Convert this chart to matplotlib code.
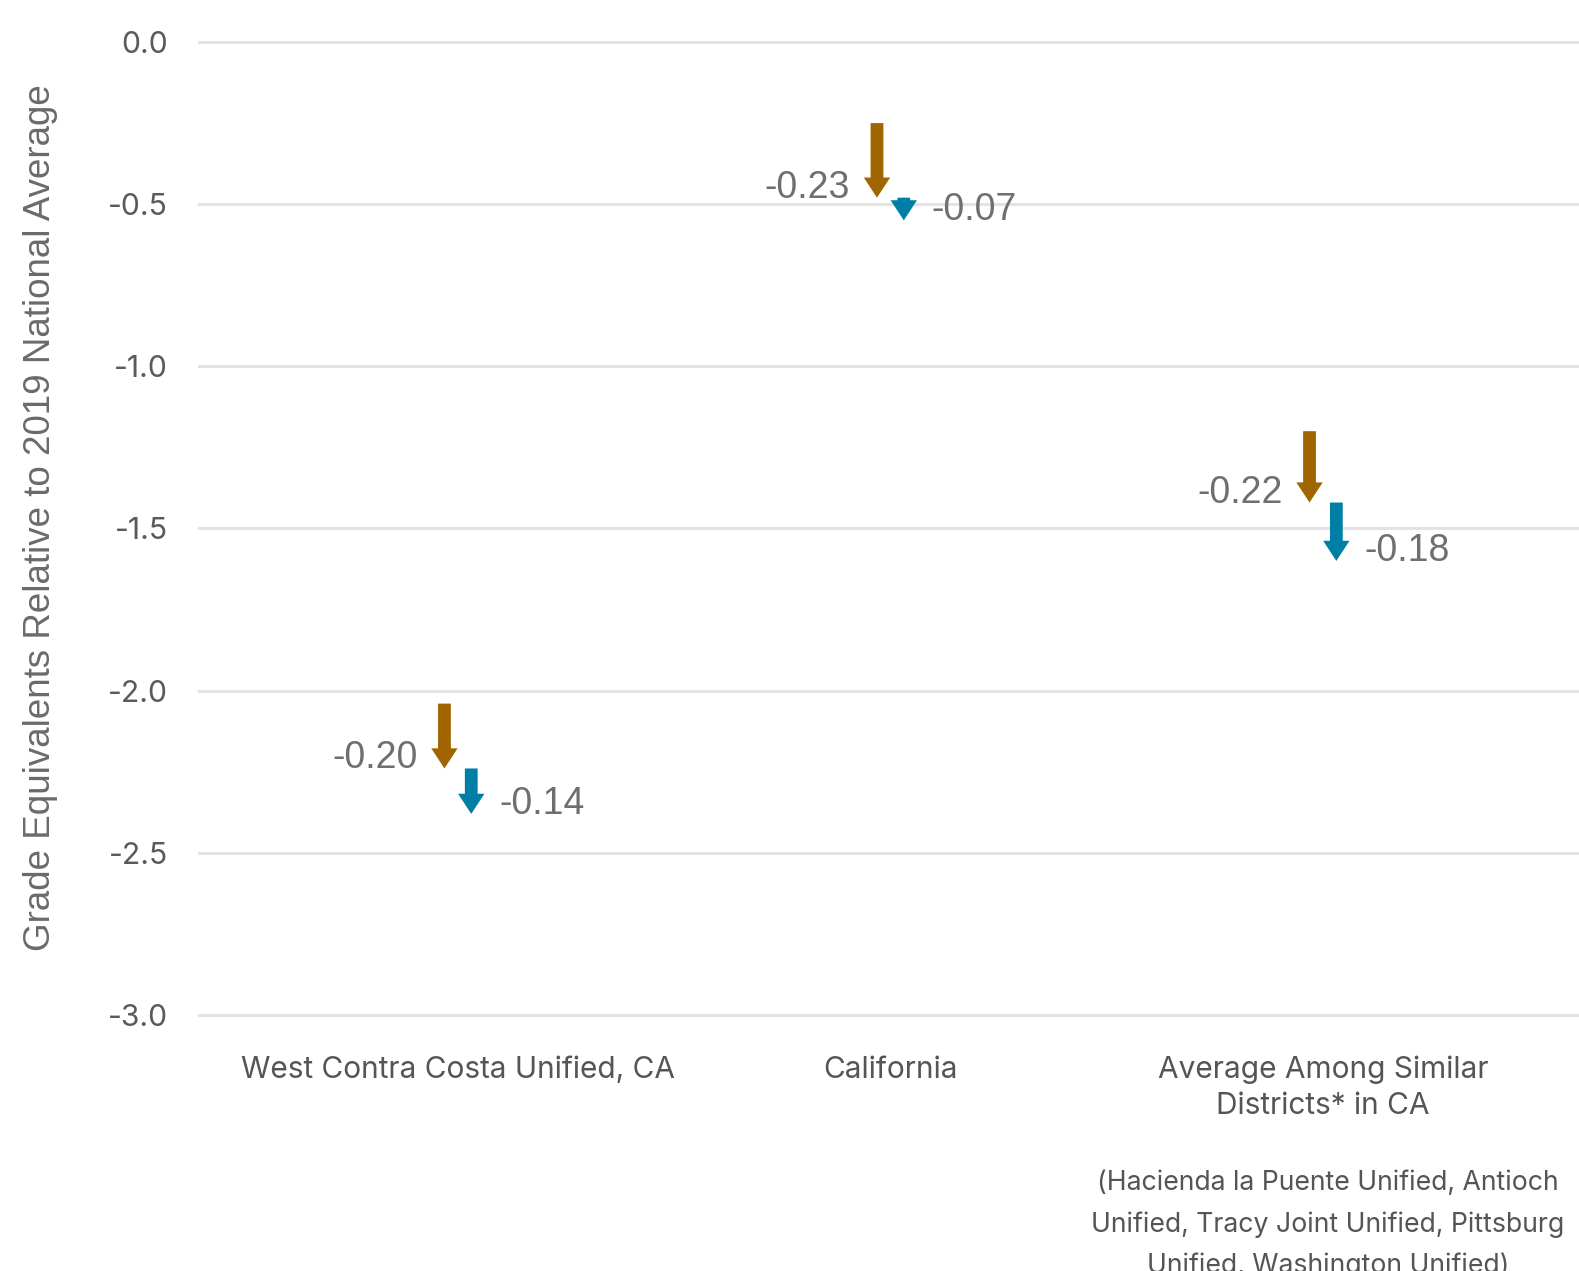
import matplotlib.pyplot as plt
from matplotlib.patches import FancyArrowPatch

# data
categories = ["West Contra Costa Unified, CA", "California",
              "Average Among Similar\nDistricts* in CA"]
start_vals = [-2.04, -0.25, -1.20]
first_change = [-0.20, -0.23, -0.22]
second_change = [-0.14, -0.07, -0.18]
first_labels = ["-0.20", "-0.23", "-0.22"]
second_labels = ["-0.14", "-0.07", "-0.18"]
yticks = [0.0, -0.5, -1.0, -1.5, -2.0, -2.5, -3.0]
footnote = "(Hacienda la Puente Unified, Antioch\nUnified, Tracy Joint Unified, Pittsburg\nUnified, Washington Unified)"

brown = "#A06500"
blue = "#007FA6"
label_grey = "#6f6f6f"

fig = plt.figure(figsize=(15.79, 12.71), dpi=100)
ax = fig.add_axes([0.1256, 0.1938, 0.8744, 0.7808])
ax.set_ylim(-3.03, 0.03)
ax.set_xlim(-0.600, 2.592)

for y in yticks:
    ax.axhline(y, color="#e3e3e3", lw=2.2, zorder=0)

ax.set_yticks(yticks)
ax.set_yticklabels(["%.1f" % t for t in yticks], fontfamily="Inter",
                   fontsize=21.7, color="#5a5a5a")
ax.set_xticks(range(len(categories)))
ax.set_xticklabels(categories, fontfamily="Inter", fontsize=21.5,
                   color="#555555", linespacing=1.35)
ax.tick_params(length=0, axis="y", pad=21.7)
ax.tick_params(length=0, axis="x", pad=22.5)
for s in ax.spines.values():
    s.set_visible(False)

fig.text(0.0255, 0.5928, "Grade Equivalents Relative to 2019 National Average",
         rotation=90, ha="center", va="center",
         fontfamily="Liberation Sans", fontsize=26.5, color="#6a6a6a")

dx = 0.031
for i in range(len(categories)):
    y0 = start_vals[i]
    y1 = y0 + first_change[i]
    y2 = y1 + second_change[i]
    for x, ya, yb, c in [(i - dx, y0, y1, brown), (i + dx, y1, y2, blue)]:
        arr = FancyArrowPatch((x, ya), (x, yb), mutation_scale=1,
                              arrowstyle="simple,head_length=14.5,head_width=19,tail_width=9.2",
                              color=c, shrinkA=0, shrinkB=0, lw=0)
        ax.add_patch(arr)
    ax.annotate(first_labels[i], xy=(i - dx, y1), xytext=(-27, 0),
                textcoords="offset pixels", ha="right", va="baseline",
                fontfamily="Liberation Sans", fontsize=27, color=label_grey)
    ax.annotate(second_labels[i], xy=(i + dx, y2), xytext=(28, 0),
                textcoords="offset pixels", ha="left", va="baseline",
                fontfamily="Liberation Sans", fontsize=27, color=label_grey)

# footnote runs off the bottom edge in the original too
fig.text(0.841, 0.0365, footnote, ha="center", va="center",
         fontfamily="Inter", fontsize=19.2, color="#555555", linespacing=1.75)

fig.savefig("out.png", dpi=100)
